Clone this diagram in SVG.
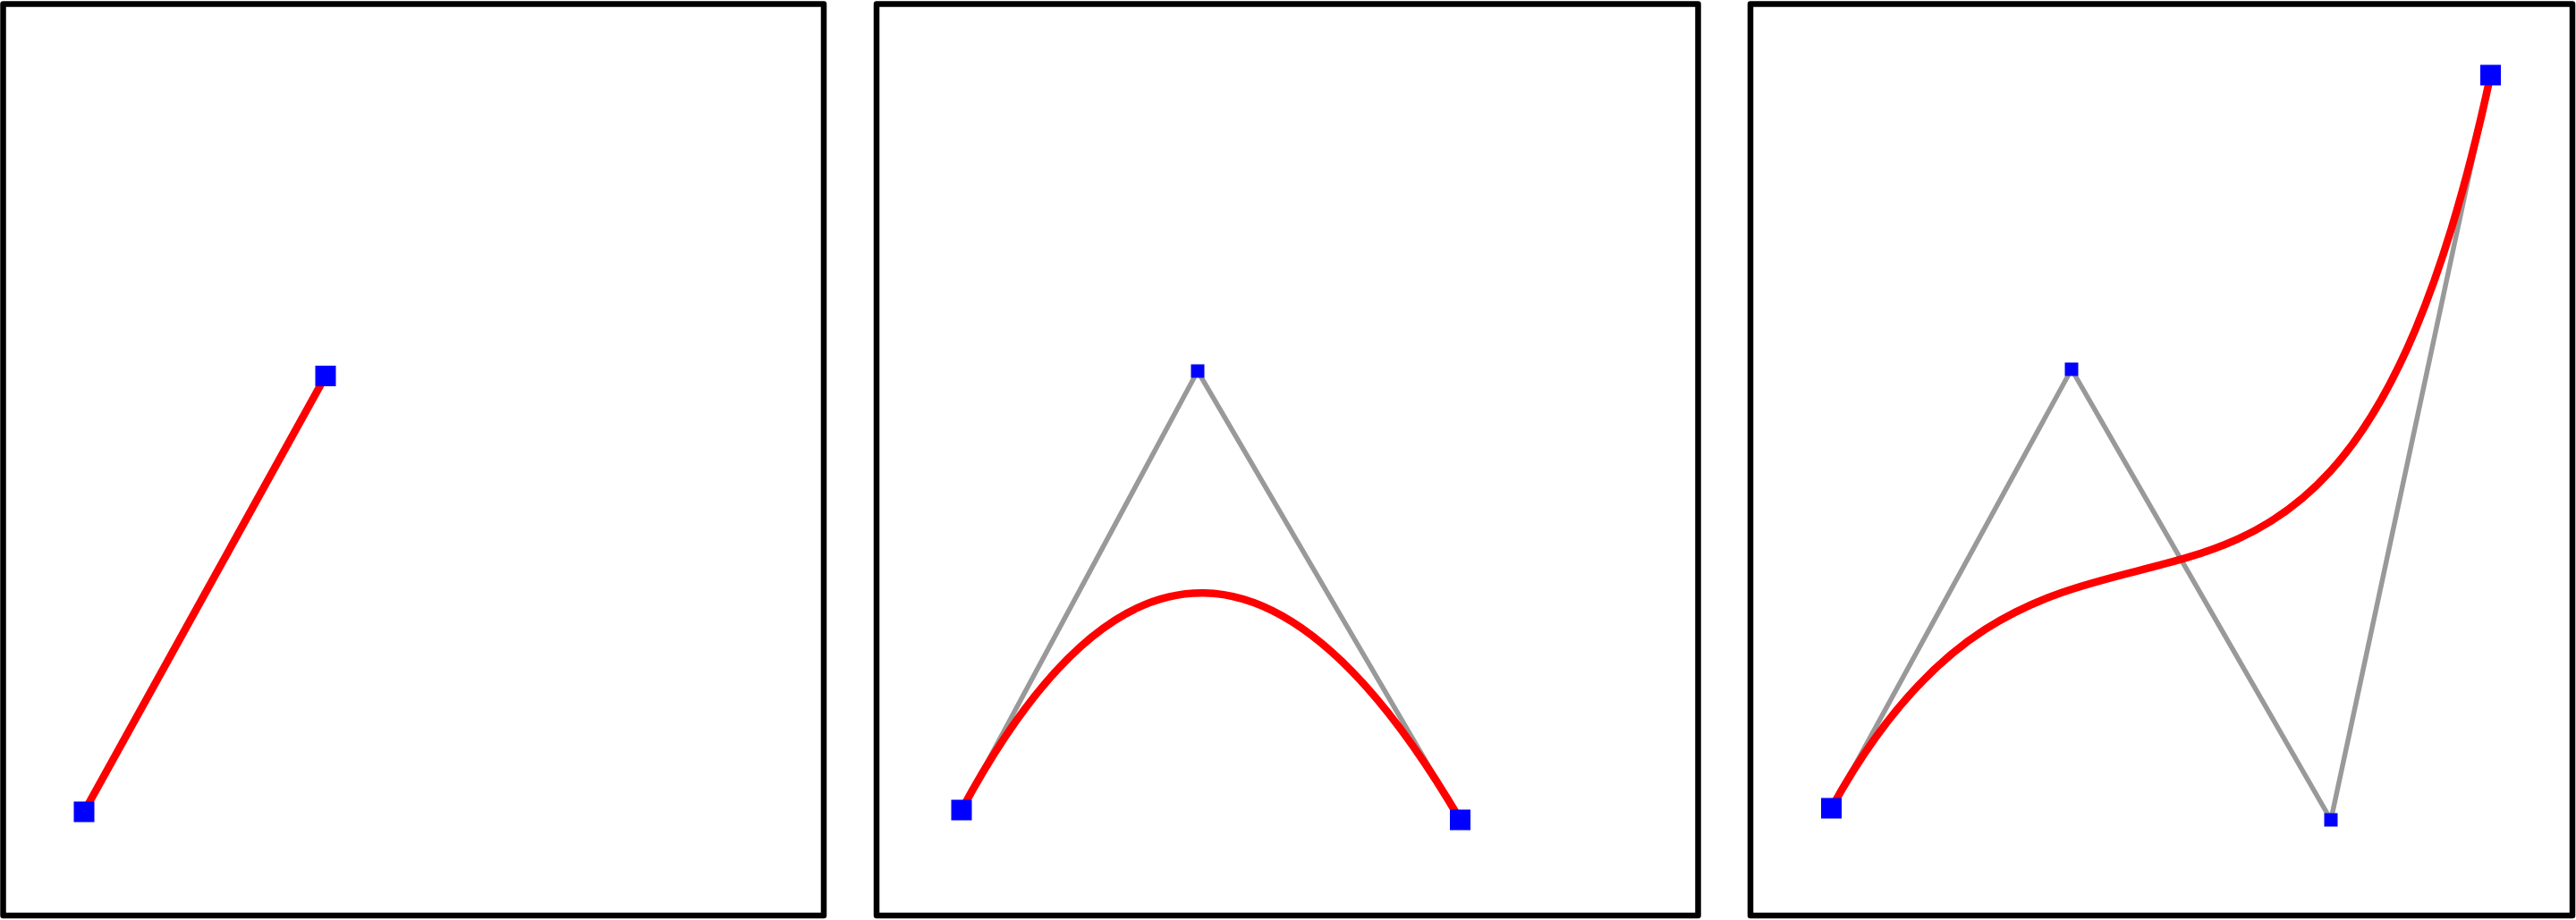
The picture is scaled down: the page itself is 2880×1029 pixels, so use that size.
<svg xmlns="http://www.w3.org/2000/svg" width="2880" height="1029" viewBox="0 0 2880 1029">
<style>
.panel{fill:#fff;stroke:#000;stroke-width:6.5;stroke-linejoin:round}
.ctrl{fill:none;stroke:#999;stroke-width:5.5}
.curve{fill:none;stroke:#f00;stroke-width:8.5}
.pt{fill:#00f}
</style>
<rect x="0" y="0" width="2880" height="1029" fill="#fff"/>
<g id="panel1"><rect class="panel" x="3.5" y="4.5" width="917.5" height="1019.5"/></g>
<g id="panel2"><rect class="panel" x="980" y="4.5" width="918.5" height="1019.5"/></g>
<g id="panel3"><rect class="panel" x="1957" y="4.5" width="919" height="1019.5"/></g>
<g id="connectors">
<path class="ctrl" d="M1075,906 L1339,415 L1632.5,917"/>
<path class="ctrl" d="M2047.5,904 L2316,413 L2606,917 L2784.5,84"/>
<path class="curve" d="M94,908 L364,420.5"/>
<path class="curve" d="M1075,906 Q1339,415 1632.5,917"/>
<path class="curve" d="M2047.5,904 C2316,413 2606,917 2784.5,84"/>
</g>
<g id="p1a"><rect class="pt" x="82.5" y="896.5" width="23" height="23"/></g>
<g id="p1b"><rect class="pt" x="352.5" y="409" width="23" height="23"/></g>
<g id="p2a"><rect class="pt" x="1063.5" y="894.5" width="23" height="23"/></g>
<g id="p2c"><rect class="pt" x="1331.5" y="407.5" width="15" height="15"/></g>
<g id="p2b"><rect class="pt" x="1621" y="905.5" width="23" height="23"/></g>
<g id="p3a"><rect class="pt" x="2036" y="892.5" width="23" height="23"/></g>
<g id="p3c1"><rect class="pt" x="2308.5" y="405.5" width="15" height="15"/></g>
<g id="p3c2"><rect class="pt" x="2598.5" y="909.5" width="15" height="15"/></g>
<g id="p3b"><rect class="pt" x="2773" y="72.5" width="23" height="23"/></g>
</svg>
